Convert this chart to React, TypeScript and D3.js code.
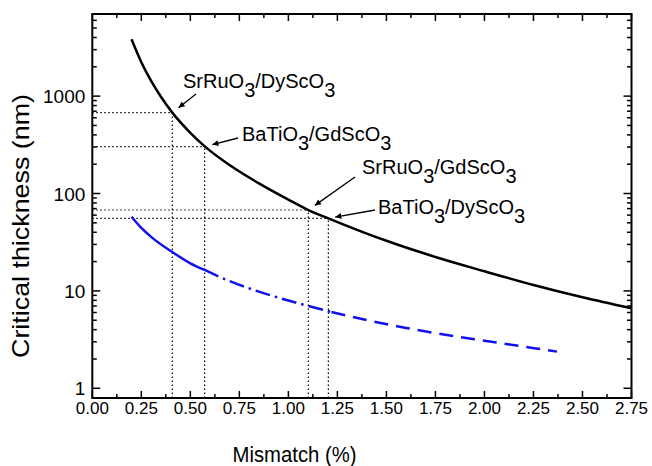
import React, { useRef, useEffect } from 'react';
import * as d3 from 'd3';

// Critical thickness curves
const mismatchBlack = [0.2, 0.25, 0.3, 0.35, 0.408, 0.5, 0.575, 0.7, 0.85, 1.0, 1.102, 1.204, 1.35, 1.5, 1.75, 2.0, 2.25, 2.5, 2.75];
const thicknessBlack = [3830, 2228, 1432, 984, 677, 420, 303, 196, 127, 86.5, 67.7, 55.6, 42.4, 32.7, 22.3, 15.9, 11.5, 8.6, 6.63];

const mismatchBlue = [0.2, 0.25, 0.3, 0.41, 0.5, 0.573, 0.7, 0.85, 1.0, 1.1, 1.22, 1.4, 1.6, 1.8, 2.0, 2.2, 2.37];
const thicknessBlue = [57.8, 44.4, 35.9, 24.9, 19.2, 16.4, 12.6, 9.82, 7.96, 7.02, 6.07, 5.01, 4.17, 3.55, 3.08, 2.68, 2.38];
// blue line changes style at these mismatch values: solid | dash-dot | dashed
const blueBreaks = [0.2, 0.573, 1.22, 2.37];

// film/substrate reference points
const refMismatch = [0.408, 0.573, 1.102, 1.204];
const refThickness = [677, 303, 67.7, 55.6];
const refFilm = ['SrRuO', 'BaTiO', 'SrRuO', 'BaTiO'];
const refSubstrate = ['DyScO', 'GdScO', 'GdScO', 'DyScO'];

const xTickValues = [0, 0.25, 0.5, 0.75, 1, 1.25, 1.5, 1.75, 2, 2.25, 2.5, 2.75];
const yTickValues = [1, 10, 100, 1000];

const width = 652;
const height = 466;
const FONT = '"Liberation Sans", Arial, Helvetica, sans-serif';

const App = () => {
  const svgRef = useRef<SVGSVGElement>(null);

  useEffect(() => {
    document.body.style.margin = '0';
    const svg = d3.select(svgRef.current);
    svg.selectAll('*').remove();

    const margin = { top: 14, right: 20.5, bottom: 68, left: 92.3 };
    const x0 = margin.left;
    const x1 = width - margin.right;
    const y0 = margin.top;
    const y1 = height - margin.bottom;

    const x = d3.scaleLinear().domain([0, 2.75]).range([x0, x1]);
    const y = d3.scaleLog().domain([0.795, 6970]).range([y1, y0]);

    // minor ticks
    const xMinor = xTickValues.slice(0, -1).map(v => v + 0.125);
    const yMinor: number[] = [];
    yTickValues.forEach(d => {
      for (let k = 2; k <= 9; k++) if (d * k < 6970) yMinor.push(d * k);
    });

    // inward ticks on all four sides
    const drawXTicks = (vals: number[], len: number) => {
      const g = svg.append('g').attr('stroke', '#000').attr('stroke-width', 1.5);
      vals.forEach(v => {
        g.append('line').attr('x1', x(v)).attr('x2', x(v)).attr('y1', y1).attr('y2', y1 - len);
        g.append('line').attr('x1', x(v)).attr('x2', x(v)).attr('y1', y0).attr('y2', y0 + len);
      });
    };
    const drawYTicks = (vals: number[], len: number) => {
      const g = svg.append('g').attr('stroke', '#000').attr('stroke-width', 1.5);
      vals.forEach(v => {
        g.append('line').attr('x1', x0).attr('x2', x0 + len).attr('y1', y(v)).attr('y2', y(v));
        g.append('line').attr('x1', x1).attr('x2', x1 - len).attr('y1', y(v)).attr('y2', y(v));
      });
    };
    drawXTicks(xTickValues, 7);
    drawXTicks(xMinor, 4);
    drawYTicks(yTickValues, 8);
    drawYTicks(yMinor, 4.5);

    // tick labels
    svg.append('g')
      .selectAll('text')
      .data(xTickValues)
      .enter()
      .append('text')
      .attr('x', d => x(d))
      .attr('y', y1 + 16)
      .attr('text-anchor', 'middle')
      .attr('font-family', FONT)
      .attr('font-size', 17)
      .text(d => d3.format('.2f')(d));

    svg.append('g')
      .selectAll('text')
      .data(yTickValues)
      .enter()
      .append('text')
      .attr('x', x0 - 7)
      .attr('y', d => y(d) + 7)
      .attr('text-anchor', 'end')
      .attr('font-family', FONT)
      .attr('font-size', 19)
      .text(d => String(d));

    // dotted reference lines
    const refs = refMismatch.map((m, i) => ({ m, t: refThickness[i] }));
    const dots = svg.append('g')
      .attr('stroke', '#000')
      .attr('stroke-width', 1.2)
      .attr('stroke-dasharray', '1.5,2.5');
    refs.forEach(d => {
      dots.append('line').attr('x1', x0).attr('x2', x(d.m)).attr('y1', y(d.t)).attr('y2', y(d.t));
      dots.append('line').attr('x1', x(d.m)).attr('x2', x(d.m)).attr('y1', y1).attr('y2', y(d.t));
    });

    const line = d3.line<[number, number]>()
      .x(d => x(d[0]))
      .y(d => y(d[1]))
      .curve(d3.curveMonotoneX);

    // black curve
    svg.append('path')
      .attr('d', line(mismatchBlack.map((m, i) => [m, thicknessBlack[i]] as [number, number])))
      .attr('fill', 'none')
      .attr('stroke', '#000')
      .attr('stroke-width', 2.5);

    // blue curve, three styles
    const blueDash = [null, '15,5,2.5,5', '14,8'];
    const bluePts = mismatchBlue.map((m, i) => [m, thicknessBlue[i]] as [number, number]);
    for (let s = 0; s < 3; s++) {
      const a = blueBreaks[s];
      const b = blueBreaks[s + 1];
      const seg = bluePts.filter(p => p[0] >= a && p[0] <= b);
      svg.append('path')
        .attr('d', line(seg))
        .attr('fill', 'none')
        .attr('stroke', '#1111ee')
        .attr('stroke-width', 2.5)
        .attr('stroke-dasharray', blueDash[s]);
    }

    // frame
    svg.append('rect')
      .attr('x', x0)
      .attr('y', y0)
      .attr('width', x1 - x0)
      .attr('height', y1 - y0)
      .attr('fill', 'none')
      .attr('stroke', '#000')
      .attr('stroke-width', 2);

    // arrowhead marker
    svg.append('defs')
      .append('marker')
      .attr('id', 'head')
      .attr('viewBox', '0 0 10 10')
      .attr('refX', 10)
      .attr('refY', 5)
      .attr('markerWidth', 9)
      .attr('markerHeight', 6)
      .attr('markerUnits', 'userSpaceOnUse')
      .attr('orient', 'auto')
      .append('path')
      .attr('d', 'M0,0L10,5L0,10Z')
      .attr('fill', '#000');

    // annotation layout: text start, baseline, arrow tail
    const labelLayout = [
      { tx: 183, ty: 88, ax: 196, ay: 94, gap: 8 },
      { tx: 242, ty: 141, ax: 238, ay: 138, gap: 8 },
      { tx: 362, ty: 174, ax: 355, ay: 177, gap: 8 },
      { tx: 378, ty: 214, ax: 375, ay: 210, gap: 7 },
    ];

    refs.forEach((d, i) => {
      const L = labelLayout[i];
      const px = x(d.m);
      const py = y(d.t);
      const dx = L.ax - px;
      const dy = L.ay - py;
      const len = Math.sqrt(dx * dx + dy * dy);
      svg.append('line')
        .attr('x1', L.ax)
        .attr('y1', L.ay)
        .attr('x2', px + (dx / len) * L.gap)
        .attr('y2', py + (dy / len) * L.gap)
        .attr('stroke', '#000')
        .attr('stroke-width', 1.3)
        .attr('marker-end', 'url(#head)');

      const t = svg.append('text')
        .attr('x', L.tx)
        .attr('y', L.ty)
        .attr('font-family', FONT)
        .attr('font-size', 20);
      t.append('tspan').text(refFilm[i]);
      t.append('tspan').attr('dy', 9).text('3');
      t.append('tspan').attr('dy', -9).text('/' + refSubstrate[i]);
      t.append('tspan').attr('dy', 9).text('3');
    });

    // axis titles
    svg.append('text')
      .attr('x', 294.5)
      .attr('y', 462)
      .attr('text-anchor', 'middle')
      .attr('font-family', FONT)
      .attr('font-size', 22)
      .attr('textLength', 124)
      .attr('lengthAdjust', 'spacingAndGlyphs')
      .text('Mismatch (%)');

    svg.append('text')
      .attr('transform', 'rotate(-90)')
      .attr('x', -226)
      .attr('y', 29)
      .attr('text-anchor', 'middle')
      .attr('font-family', FONT)
      .attr('font-size', 24)
      .attr('textLength', 264)
      .attr('lengthAdjust', 'spacingAndGlyphs')
      .text('Critical thickness (nm)');
  }, []);

  return <svg ref={svgRef} width={width} height={height} style={{ display: 'block', background: '#fff' }} />;
};

export default App;
